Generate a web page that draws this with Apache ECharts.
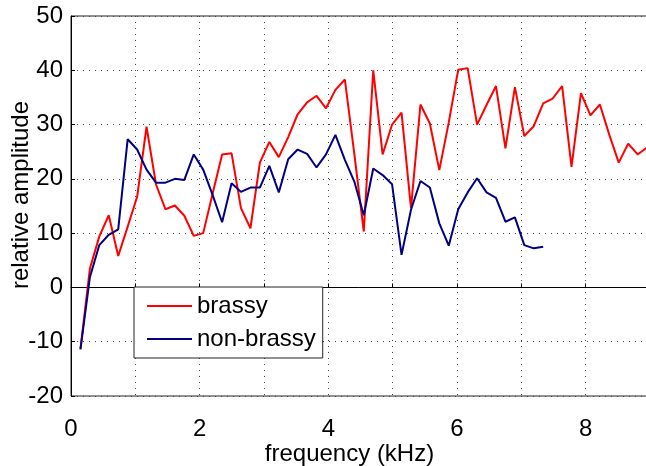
<!DOCTYPE html>
<html>
<head>
<meta charset="utf-8">
<script src="https://cdn.jsdelivr.net/npm/echarts@6/dist/echarts.min.js"></script>
<style>
  html, body { margin: 0; padding: 0; background: #fff; }
  #chart { width: 646px; height: 466px; }
</style>
</head>
<body>
<div id="chart"></div>
<script>
// harmonic frequencies (kHz)
var freq = [0.147, 0.294, 0.440, 0.587, 0.734, 0.881, 1.028, 1.174, 1.321, 1.468,
            1.615, 1.762, 1.908, 2.055, 2.202, 2.349, 2.496, 2.642, 2.789, 2.936,
            3.083, 3.230, 3.376, 3.523, 3.670, 3.817, 3.964, 4.110, 4.257, 4.404,
            4.551, 4.698, 4.844, 4.991, 5.138, 5.285, 5.432, 5.578, 5.725, 5.872,
            6.019, 6.166, 6.312, 6.459, 6.606, 6.753, 6.900, 7.046, 7.193, 7.340,
            7.487, 7.634, 7.780, 7.927, 8.074, 8.221, 8.368, 8.514, 8.661, 8.808,
            8.955];

var brassy = [-11.3, 3.5, 9.4, 13.3, 5.8, 11.2, 16.7, 29.6, 19.0, 14.4,
              15.1, 13.2, 9.5, 10.0, 17.3, 24.5, 24.7, 14.6, 10.9, 23.0,
              26.8, 24.0, 27.7, 31.9, 34.1, 35.3, 33.0, 36.4, 38.3, 24.6,
              10.3, 40.0, 24.5, 30.0, 32.2, 14.6, 33.7, 30.2, 21.6, 30.4,
              40.1, 40.4, 30.0, 33.6, 37.1, 25.6, 36.9, 27.9, 29.7, 33.9,
              34.8, 37.1, 22.2, 35.8, 31.7, 33.7, 28.1, 23.0, 26.5, 24.5,
              25.8];

var nonBrassy = [-11.4, 1.9, 7.8, 9.7, 10.7, 27.3, 25.4, 21.7, 19.3, 19.3,
                 20.0, 19.8, 24.5, 21.7, 17.0, 12.0, 19.2, 17.6, 18.4, 18.4,
                 22.4, 17.5, 23.6, 25.4, 24.6, 22.1, 24.5, 28.1, 23.5, 19.5,
                 13.3, 21.9, 20.7, 19.0, 6.0, 14.3, 19.6, 18.4, 11.8, 7.7,
                 14.4, 17.5, 20.1, 17.5, 16.5, 12.1, 12.9, 7.8, 7.2, 7.5];

var xLabels = ['0', '', '2', '', '4', '', '6', '', '8', ''];

function pairs(ys) {
    return ys.map(function (y, i) { return [freq[i], y]; });
}

var font = "'Liberation Sans', Arial, sans-serif";
var gridDots = { color: '#444', width: 1, type: [1, 5] };

var myChart = echarts.init(document.getElementById('chart'));
myChart.setOption({
    animation: false,
    grid: {
        left: 71,
        top: 16,
        right: -4,
        bottom: 70,
        show: true,
        borderColor: '#222',
        borderWidth: 1,
        outerBoundsMode: 'none'
    },
    legend: {
        data: [
            { name: 'brassy', icon: 'rect', itemStyle: { color: '#ff0000' } },
            { name: 'non-brassy', icon: 'rect', itemStyle: { color: '#000080' } }
        ],
        orient: 'vertical',
        left: 134,
        top: 287,
        itemWidth: 45,
        itemHeight: 2,
        itemGap: 9,
        itemTextGap: 5,
        padding: [7, 7, 7, 13],
        backgroundColor: '#fff',
        borderColor: '#222',
        borderWidth: 1,
        textStyle: { fontSize: 24, lineHeight: 24, height: 24, color: '#000', fontFamily: font }
    },
    xAxis: {
        type: 'value',
        min: 0,
        max: 9,
        interval: 1,
        name: 'frequency (kHz)',
        nameLocation: 'middle',
        nameGap: 46,
        nameMoveOverlap: false,
        nameTextStyle: { fontSize: 24, color: '#000', fontFamily: font, padding: [0, 22, 0, 0] },
        axisLine: { lineStyle: { color: '#000', width: 1 } },
        axisTick: { inside: true, length: 4, lineStyle: { color: '#000' } },
        axisLabel: {
            fontSize: 24, color: '#000', fontFamily: font, margin: 21,
            formatter: function (v) { return xLabels[Math.round(v)] || ''; }
        },
        splitLine: { show: true, lineStyle: gridDots }
    },
    yAxis: {
        type: 'value',
        min: -20,
        max: 50,
        interval: 10,
        name: 'relative amplitude',
        nameLocation: 'middle',
        nameGap: 38,
        nameMoveOverlap: false,
        nameTextStyle: { fontSize: 24, color: '#000', fontFamily: font, padding: [0, 0, 0, 22] },
        axisLine: { show: true, lineStyle: { color: '#000', width: 1 } },
        axisTick: { show: true, inside: true, length: 4, lineStyle: { color: '#000' } },
        axisLabel: { fontSize: 24, color: '#000', fontFamily: font, margin: 8 },
        splitLine: { show: true, lineStyle: gridDots }
    },
    series: [
        {
            name: 'brassy',
            type: 'line',
            data: pairs(brassy),
            symbol: 'none',
            lineStyle: { color: '#ff0000', width: 2 },
            itemStyle: { color: '#ff0000' }
        },
        {
            name: 'non-brassy',
            type: 'line',
            data: pairs(nonBrassy),
            symbol: 'none',
            lineStyle: { color: '#000080', width: 2 },
            itemStyle: { color: '#000080' }
        }
    ]
});
</script>
</body>
</html>
